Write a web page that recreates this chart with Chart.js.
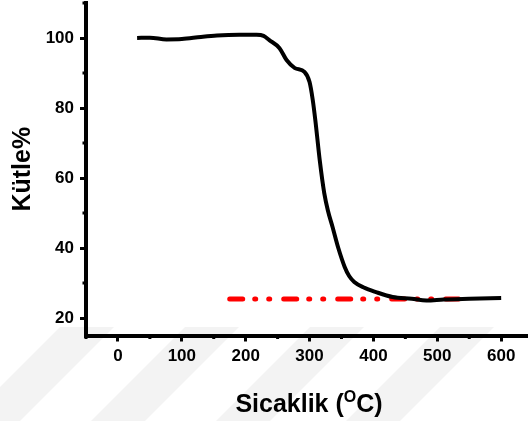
<!DOCTYPE html>
<html>
<head>
<meta charset="utf-8">
<script src="https://cdn.jsdelivr.net/npm/chart.js@4"></script>
<style>
html, body { margin: 0; padding: 0; background: #fff; }
</style>
</head>
<body>
<canvas id="chart" width="528" height="421"></canvas>
<script>
// TGA curve
const temps = [30, 50, 76, 100, 130, 155, 190, 217, 228, 237, 253, 264, 277, 292, 300, 305, 309, 316, 323, 329, 336, 345, 355, 362, 370, 385, 404, 430, 460, 483, 510, 550, 600];
const mass = [100, 100.1, 99.6, 99.7, 100.3, 100.7, 100.9, 100.9, 100.6, 99.4, 97.1, 93.7, 91.4, 90.3, 87.4, 82.3, 76.6, 65, 55.7, 50.5, 46, 40, 34.6, 32, 30.3, 28.7, 27.4, 26, 25.5, 25, 25.3, 25.5, 25.7];
// red residue line
const residX = [175, 542];
const residY = [25.4, 25.4];

const xMajor = [0, 100, 200, 300, 400, 500, 600];
const xMinor = [-50, 50, 150, 250, 350, 450, 550];
const yMajor = [20, 40, 60, 80, 100];
const yMinor = [30, 50, 70, 90, 110];

const fontFam = "'Liberation Sans', Arial, sans-serif";

const stripes = {
    id: 'stripes',
    beforeDraw(chart) {
        const ctx = chart.ctx;
        ctx.save();
        ctx.fillStyle = '#f3f3f3';
        for (let x0 of [60, 185, 310, 440]) {
            ctx.beginPath();
            ctx.moveTo(x0, 327);
            ctx.lineTo(x0 + 54, 327);
            ctx.lineTo(x0 + 54 - 94, 421);
            ctx.lineTo(x0 - 94, 421);
            ctx.closePath();
            ctx.fill();
        }
        ctx.restore();
    }
};

const minorTicks = {
    id: 'minorTicks',
    afterDraw(chart) {
        const ctx = chart.ctx;
        const xs = chart.scales.x, ys = chart.scales.y;
        ctx.save();
        ctx.strokeStyle = '#000';
        ctx.lineWidth = 3;
        ctx.beginPath();
        for (let v of xMinor) {
            let p = xs.getPixelForValue(v);
            ctx.moveTo(p, xs.top);
            ctx.lineTo(p, xs.top + 3.5);
        }
        for (let v of yMinor) {
            let p = ys.getPixelForValue(v);
            ctx.moveTo(ys.right, p);
            ctx.lineTo(ys.right - 3.5, p);
        }
        ctx.stroke();
        ctx.restore();
    }
};

const xTitle = {
    id: 'xTitle',
    afterDraw(chart) {
        const ctx = chart.ctx;
        const a = chart.chartArea;
        ctx.save();
        ctx.fillStyle = '#000';
        ctx.textBaseline = 'alphabetic';
        const big = 'bold 25px ' + fontFam;
        const small = 'bold 16px ' + fontFam;
        ctx.font = big;
        const w1 = ctx.measureText('Sicaklik (').width;
        const w3 = ctx.measureText('C)').width;
        ctx.font = small;
        const w2 = ctx.measureText('O').width;
        let x = (a.left + a.right) / 2 - (w1 + w2 + w3) / 2 + 2;
        const base = 412;
        ctx.font = big;
        ctx.fillText('Sicaklik (', x, base);
        ctx.font = small;
        ctx.fillText('O', x + w1, base - 10);
        ctx.font = big;
        ctx.fillText('C)', x + w1 + w2, base);
        ctx.restore();
    }
};

let ctx = document.querySelector('#chart').getContext('2d');
let myChart = new Chart(ctx, {
    type: 'scatter',
    data: {
        datasets: [{
            data: temps.map((t, i) => ({ x: t, y: mass[i] })),
            showLine: true,
            borderColor: '#000',
            borderWidth: 4,
            pointRadius: 0,
            cubicInterpolationMode: 'monotone'
        }, {
            data: residX.map((t, i) => ({ x: t, y: residY[i] })),
            showLine: true,
            borderColor: '#ff0000',
            borderWidth: 5,
            borderDash: [13, 12, 1, 13, 1, 14],
            borderCapStyle: 'round',
            pointRadius: 0
        }]
    },
    options: {
        responsive: false,
        animation: false,
        devicePixelRatio: 1,
        layout: { padding: { top: 3, right: 0, left: 0, bottom: 0 } },
        plugins: { legend: { display: false }, tooltip: { enabled: false } },
        scales: {
            x: {
                type: 'linear',
                min: -50,
                max: 642,
                afterBuildTicks: (axis) => { axis.ticks = xMajor.map(v => ({ value: v })); },
                afterFit: (axis) => { axis.height = 85.5; axis.paddingLeft = 0; axis.paddingRight = 0; },
                grid: { drawOnChartArea: false, tickLength: 6, tickWidth: 3, tickColor: '#000' },
                border: { display: true, width: 4, color: '#000' },
                ticks: { color: '#000', padding: 5, maxRotation: 0, font: { family: fontFam, size: 17, weight: 'bold' } }
            },
            y: {
                min: 15,
                max: 110,
                afterBuildTicks: (axis) => { axis.ticks = yMajor.map(v => ({ value: v })); },
                afterFit: (axis) => { axis.width = 86; axis.paddingTop = 0; axis.paddingBottom = 0; },
                grid: { drawOnChartArea: false, tickLength: 6, tickWidth: 3, tickColor: '#000' },
                border: { display: true, width: 4, color: '#000' },
                ticks: { color: '#000', padding: 6, font: { family: fontFam, size: 17, weight: 'bold' } },
                title: {
                    display: true,
                    text: 'Kütle%',
                    color: '#000',
                    padding: { top: 8, bottom: 0 },
                    font: { family: fontFam, size: 25, weight: 'bold' }
                }
            }
        }
    },
    plugins: [stripes, minorTicks, xTitle]
});
</script>
</body>
</html>
